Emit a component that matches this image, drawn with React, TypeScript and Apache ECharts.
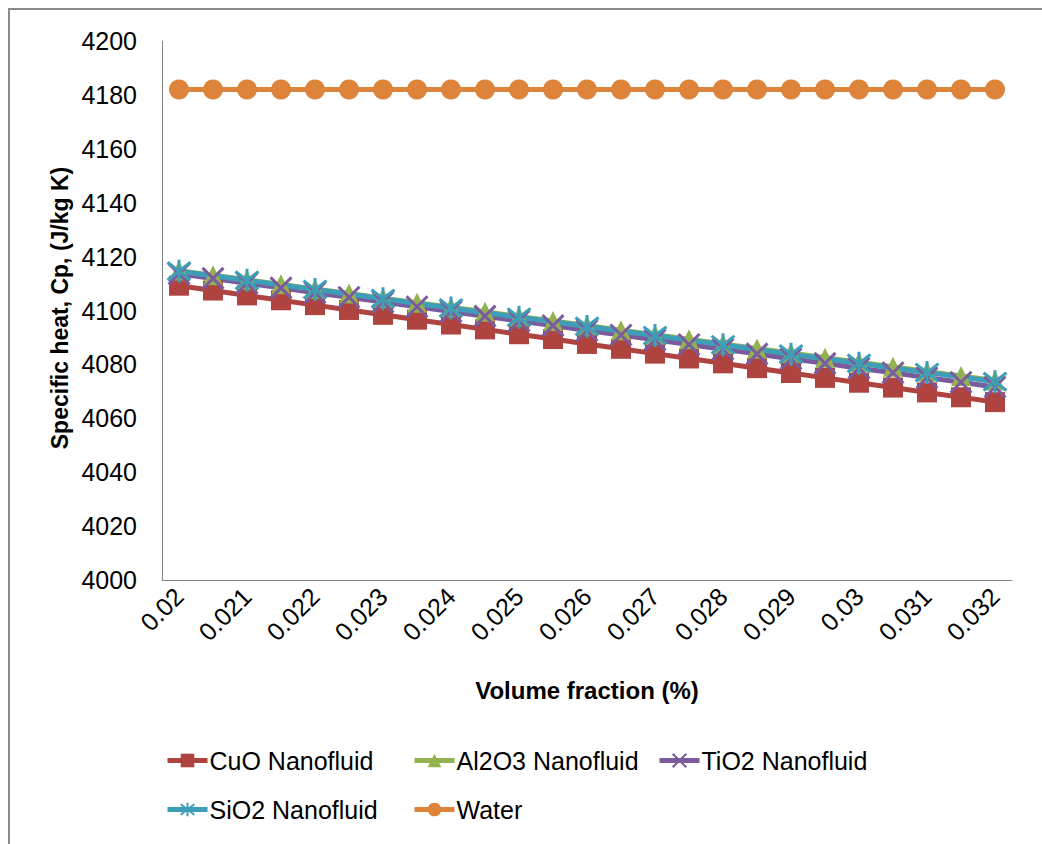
import React, { useEffect, useRef } from "react";
import * as echarts from "echarts";

const categories = [
  "0.02", "0.0205", "0.021", "0.0215", "0.022", "0.0225", "0.023", "0.0235",
  "0.024", "0.0245", "0.025", "0.0255", "0.026", "0.0265", "0.027", "0.0275",
  "0.028", "0.0285", "0.029", "0.0295", "0.03", "0.0305", "0.031", "0.0315", "0.032",
];
const tickLabels: Record<string, string> = {
  "0.02": "0.02", "0.021": "0.021", "0.022": "0.022", "0.023": "0.023",
  "0.024": "0.024", "0.025": "0.025", "0.026": "0.026", "0.027": "0.027",
  "0.028": "0.028", "0.029": "0.029", "0.03": "0.03", "0.031": "0.031", "0.032": "0.032",
};

const cuo = [
  4109.2, 4107.4, 4105.6, 4103.8, 4102.0, 4100.2, 4098.4, 4096.6, 4094.8, 4093.0,
  4091.2, 4089.4, 4087.6, 4085.8, 4084.0, 4082.2, 4080.4, 4078.6, 4076.8, 4075.0,
  4073.2, 4071.4, 4069.6, 4067.8, 4066.0,
];
const al2o3 = [
  4114.8, 4113.1, 4111.4, 4109.7, 4108.0, 4106.3, 4104.6, 4102.9, 4101.2, 4099.5,
  4097.8, 4096.1, 4094.4, 4092.7, 4091.0, 4089.3, 4087.6, 4085.9, 4084.2, 4082.5,
  4080.8, 4079.1, 4077.4, 4075.7, 4074.0,
];
const tio2 = [
  4113.6, 4111.9, 4110.1, 4108.4, 4106.6, 4104.9, 4103.1, 4101.4, 4099.6, 4097.9,
  4096.1, 4094.4, 4092.6, 4090.9, 4089.1, 4087.4, 4085.6, 4083.9, 4082.1, 4080.4,
  4078.6, 4076.9, 4075.1, 4073.4, 4071.6,
];
const sio2 = [
  4114.6, 4112.9, 4111.2, 4109.5, 4107.8, 4106.1, 4104.4, 4102.6, 4100.9, 4099.2,
  4097.5, 4095.8, 4094.1, 4092.4, 4090.7, 4089.0, 4087.3, 4085.5, 4083.8, 4082.1,
  4080.4, 4078.7, 4077.0, 4075.3, 4073.6,
];
const water = [
  4182, 4182, 4182, 4182, 4182, 4182, 4182, 4182, 4182, 4182,
  4182, 4182, 4182, 4182, 4182, 4182, 4182, 4182, 4182, 4182,
  4182, 4182, 4182, 4182, 4182,
];

const FONT = "'Liberation Sans', Arial, sans-serif";
const X_PATH = "path://M0,0L10,10M10,0L0,10";
const STAR_PATH = "path://M0,0L10,10M10,0L0,10M5,-1.5L5,11.5";

export default function App() {
  const ref = useRef<HTMLDivElement>(null);
  useEffect(() => {
    if (!ref.current) return;
    const chart = echarts.init(ref.current, null, { renderer: "svg" });
    const mk = (name: string, data: number[], color: string, symbol: string, size: number, extra: any = {}) => ({
      name,
      type: "line",
      data,
      symbol,
      symbolSize: size,
      showSymbol: true,
      lineStyle: { color, width: 5 },
      itemStyle: { color, borderColor: color, borderWidth: 0, ...extra },
      emphasis: { disabled: true },
    });
    const legendBase = {
      itemWidth: 40,
      itemHeight: 17,
      padding: 0,
      itemGap: 0,
      selectedMode: false,
      lineStyle: { width: 5 },
      textStyle: { fontSize: 25, fontFamily: FONT, color: "#000", padding: [0, 0, 0, -3] },
    };
    chart.setOption({
      animation: false,
      backgroundColor: "#fff",
      grid: { left: 162, right: 30, top: 41, bottom: 264, containLabel: false },
      xAxis: {
        type: "category",
        data: categories,
        boundaryGap: true,
        axisLine: { lineStyle: { color: "#868686", width: 1 } },
        axisTick: { show: false },
        axisLabel: {
          interval: 1,
          rotate: 45,
          margin: 12,
          fontSize: 25,
          fontFamily: FONT,
          color: "#000",
          formatter: (v: string) => tickLabels[v] ?? v,
        },
        splitLine: { show: false },
      },
      yAxis: {
        type: "value",
        min: 4000,
        max: 4200,
        interval: 20,
        axisLine: { show: true, lineStyle: { color: "#868686", width: 1 } },
        axisTick: { show: false },
        axisLabel: {
          margin: 25,
          fontSize: 25,
          fontFamily: FONT,
          color: "#000",
          formatter: (v: number) => String(v),
        },
        splitLine: { show: false },
      },
      legend: [
        { ...legendBase, data: ["CuO Nanofluid"], left: 165, top: 748 },
        { ...legendBase, data: ["Al2O3 Nanofluid"], left: 412, top: 748 },
        { ...legendBase, data: ["TiO2 Nanofluid"], left: 657, top: 748 },
        { ...legendBase, data: ["SiO2 Nanofluid"], left: 165, top: 797 },
        { ...legendBase, data: ["Water"], left: 412, top: 797 },
      ],
      graphic: [
        {
          type: "rect",
          z: -10,
          silent: true,
          shape: { x: 9, y: 9, width: 1200, height: 1000 },
          style: { fill: "none", stroke: "#8a8a8a", lineWidth: 2 },
        },
        {
          type: "text",
          x: 60,
          y: 308,
          rotation: Math.PI / 2,
          silent: true,
          style: {
            text: "Specific heat, Cp, (J/kg K)",
            font: `bold 23px ${FONT}`,
            fill: "#000",
            align: "center",
            verticalAlign: "middle",
          },
        },
        {
          type: "text",
          x: 587,
          y: 690,
          silent: true,
          style: {
            text: "Volume fraction (%)",
            font: `bold 24px ${FONT}`,
            fill: "#000",
            align: "center",
            verticalAlign: "middle",
          },
        },
      ],
      series: [
        mk("CuO Nanofluid", cuo, "#AE433F", "rect", 20),
        mk("Al2O3 Nanofluid", al2o3, "#93B24F", "triangle", 20),
        mk("TiO2 Nanofluid", tio2, "#7A5C9E", X_PATH, 21, { borderWidth: 3 }),
        mk("SiO2 Nanofluid", sio2, "#3E9EB8", STAR_PATH, 23, { borderWidth: 3 }),
        mk("Water", water, "#DE843A", "circle", 20),
      ],
    });
    return () => chart.dispose();
  }, []);
  return (
    <div
      ref={ref}
      style={{ position: "absolute", left: 0, top: 0, width: 1042, height: 844 }}
    />
  );
}
